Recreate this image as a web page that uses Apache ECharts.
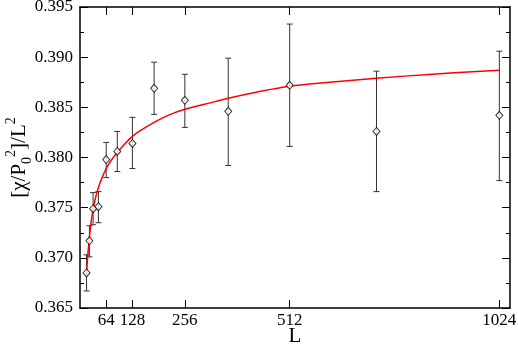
<!DOCTYPE html>
<html>
<head>
<meta charset="utf-8">
<script src="https://cdn.jsdelivr.net/npm/echarts@6/dist/echarts.min.js"></script>
<style>
html,body{margin:0;padding:0;background:#fff;}
#c{width:518px;height:344px;}
</style>
</head>
<body>
<div id="c"></div>
<script>
// Data points (system size L, value, error bar low/high)
var sizesL = [16, 23, 32, 45, 64, 91, 128, 181, 256, 362, 512, 724, 1024];
var values = [0.3685, 0.3717, 0.3749, 0.3751, 0.3798, 0.3806, 0.3814, 0.3869, 0.3857, 0.3846, 0.3872, 0.3826, 0.3842];
var errLow = [0.3667, 0.3701, 0.3733, 0.3735, 0.3780, 0.3786, 0.3789, 0.3843, 0.3830, 0.3792, 0.3811, 0.3766, 0.3777];
var errHigh = [0.3703, 0.3732, 0.3765, 0.3766, 0.3815, 0.3826, 0.3840, 0.3895, 0.3883, 0.3899, 0.3933, 0.3886, 0.3906];

// Red fit curve
var fitL = [16, 18, 20, 22, 25, 28, 32, 38, 45, 54, 64, 76, 91, 108, 128, 152, 181, 215, 256, 304, 362, 430, 512, 609, 724, 861, 1024];
var fitV = [0.3684, 0.3697, 0.3707, 0.3716, 0.3728, 0.3738, 0.3748, 0.3760, 0.3770, 0.3780, 0.3789, 0.3797, 0.3805, 0.3813, 0.3821, 0.3828, 0.3835, 0.3842, 0.3848, 0.3853, 0.3859, 0.3865, 0.3871, 0.3875, 0.3879, 0.3883, 0.3887];

// Axis ticks
var xTicks = [64, 128, 256, 512, 1024];
var yMin = 0.365, yMax = 0.395, yStep = 0.005;

var font = 'Liberation Serif';

var pts = sizesL.map(function (l, i) { return [l, values[i]]; });
var errs = sizesL.map(function (l, i) { return [l, errLow[i], errHigh[i]]; });
var fit = fitL.map(function (l, i) { return [l, fitV[i]]; });

var chart = echarts.init(document.getElementById('c'), null, {renderer: 'canvas'});
var axisLine = {show: true, onZero: false, lineStyle: {color: '#000', width: 1.5}};
chart.setOption({
  animation: false,
  backgroundColor: '#fff',
  grid: {left: 80, right: 8, top: 7, bottom: 36, containLabel: false, outerBoundsMode: 'none'},
  xAxis: [{
    type: 'value', min: 0, max: 1050, position: 'bottom',
    axisLine: axisLine,
    axisTick: {show: true, inside: true, length: 8, customValues: xTicks, lineStyle: {color: '#000', width: 1}},
    axisLabel: {show: true, customValues: xTicks, color: '#000', fontFamily: font, fontSize: 17, margin: 4,
      formatter: function (v) { return String(v); }},
    splitLine: {show: false},
    name: 'L', nameLocation: 'middle', nameGap: 18, nameMoveOverlap: false,
    nameTextStyle: {color: '#000', fontFamily: font, fontSize: 21}
  }, {
    type: 'value', min: 0, max: 1050, position: 'top',
    axisLine: axisLine,
    axisTick: {show: true, inside: true, length: 8, customValues: xTicks, lineStyle: {color: '#000', width: 1}},
    axisLabel: {show: false},
    splitLine: {show: false}
  }],
  yAxis: [{
    type: 'value', min: yMin, max: yMax, interval: yStep, position: 'left',
    axisLine: axisLine,
    axisTick: {show: true, inside: true, length: 8, lineStyle: {color: '#000', width: 1}},
    minorTick: {show: true, splitNumber: 2, length: 4, lineStyle: {color: '#000', width: 1}},
    axisLabel: {color: '#000', fontFamily: font, fontSize: 17, margin: 7,
      formatter: function (v) { return v.toFixed(3); }},
    splitLine: {show: false},
    name: '[χ/P{sub|0}{sup|2}]/L{sup|2}', nameLocation: 'middle', nameGap: 46, nameRotate: 90, nameMoveOverlap: false,
    nameTextStyle: {color: '#000', fontFamily: font, fontSize: 21, lineHeight: 30,
      rich: {
        sub: {fontFamily: font, fontSize: 14, color: '#000', verticalAlign: 'bottom', lineHeight: 16},
        sup: {fontFamily: font, fontSize: 14, color: '#000', verticalAlign: 'top', lineHeight: 18}
      }}
  }, {
    type: 'value', min: yMin, max: yMax, interval: yStep, position: 'right',
    axisLine: axisLine,
    axisTick: {show: true, inside: true, length: 8, lineStyle: {color: '#000', width: 1}},
    minorTick: {show: true, splitNumber: 2, length: 4, lineStyle: {color: '#000', width: 1}},
    axisLabel: {show: false},
    splitLine: {show: false}
  }],
  series: [{
    type: 'custom', xAxisIndex: 0, yAxisIndex: 0, z: 2,
    data: errs,
    renderItem: function (params, api) {
      var x = api.value(0);
      var lo = api.coord([x, api.value(1)]);
      var hi = api.coord([x, api.value(2)]);
      var hw = 3;
      var st = {stroke: '#333', lineWidth: 1};
      return {type: 'group', children: [
        {type: 'line', shape: {x1: lo[0], y1: lo[1], x2: hi[0], y2: hi[1]}, style: st},
        {type: 'line', shape: {x1: lo[0] - hw, y1: lo[1], x2: lo[0] + hw, y2: lo[1]}, style: st},
        {type: 'line', shape: {x1: hi[0] - hw, y1: hi[1], x2: hi[0] + hw, y2: hi[1]}, style: st}
      ]};
    }
  }, {
    type: 'line', xAxisIndex: 0, yAxisIndex: 0, z: 3,
    data: fit, smooth: 0.4, showSymbol: false,
    lineStyle: {color: '#ff0000', width: 1.5}
  }, {
    type: 'scatter', xAxisIndex: 0, yAxisIndex: 0, z: 4,
    data: pts, symbol: 'diamond', symbolSize: [7, 8],
    itemStyle: {color: '#fff', borderColor: '#000', borderWidth: 1}
  }]
});
</script>
</body>
</html>
